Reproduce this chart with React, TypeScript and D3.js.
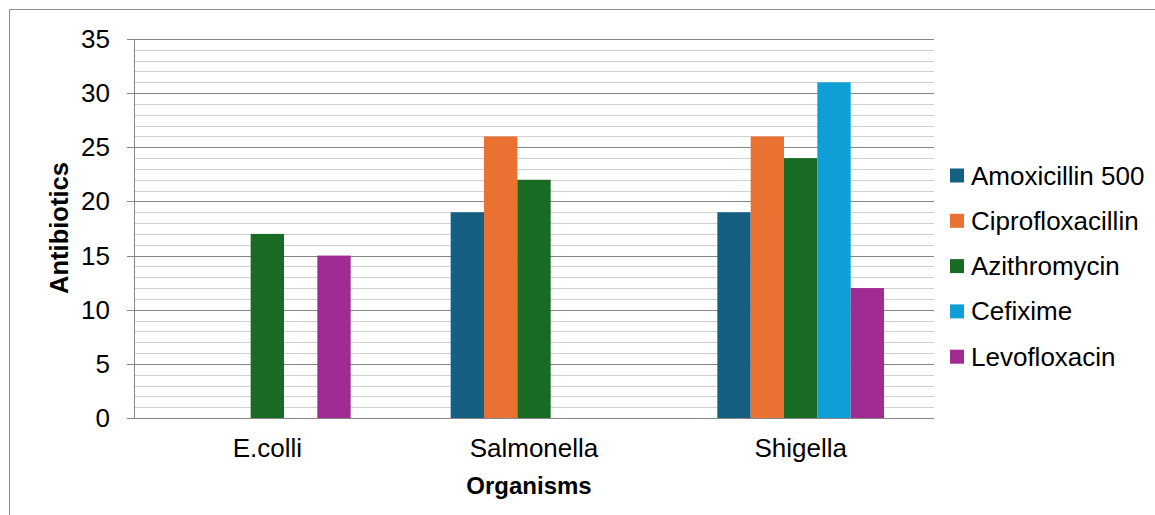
import React from "react";
import * as d3 from "d3";

const categories = ["E.colli", "Salmonella", "Shigella"];
const seriesNames = ["Amoxicillin 500", "Ciprofloxacillin", "Azithromycin", "Cefixime", "Levofloxacin"];
const seriesColors = ["#156082", "#E97132", "#196B24", "#0F9ED5", "#A02B93"];
const amoxicillin = [0, 19, 19];
const ciprofloxacillin = [0, 26, 26];
const azithromycin = [17, 22, 24];
const cefixime = [0, 0, 31];
const levofloxacin = [15, 0, 12];
const seriesValues = [amoxicillin, ciprofloxacillin, azithromycin, cefixime, levofloxacin];
const yTicks = [0, 5, 10, 15, 20, 25, 30, 35];

const W = 1155;
const H = 515;
const plot = { left: 134, right: 934, top: 39, bottom: 418 };
const font = "'Liberation Sans', Arial, sans-serif";
const fs = 26;

export default function App() {
  const x0 = d3.scaleBand<string>().domain(categories).range([plot.left, plot.right]).paddingInner(0).paddingOuter(0);
  const x1 = d3.scaleBand<string>().domain(seriesNames).range([0, x0.bandwidth()]).paddingOuter(1.5).paddingInner(0);
  const y = d3.scaleLinear().domain([0, 35]).range([plot.bottom, plot.top]);
  const minor = d3.range(0, 36, 1);

  return (
    <svg width={W} height={H} style={{ position: "absolute", left: 0, top: 0, background: "#fff" }} fontFamily={font}>
      <rect x={9.5} y={9.5} width={W + 10} height={H + 10} fill="#fff" stroke="#8c8c8c" strokeWidth={1} />
      {minor.filter((v) => v % 5 !== 0).map((v) => (
        <line key={"m" + v} x1={plot.left} x2={plot.right} y1={Math.round(y(v)) + 0.5} y2={Math.round(y(v)) + 0.5} stroke="#d0d0d0" strokeWidth={1} />
      ))}
      {yTicks.filter((v) => v !== 0).map((v) => (
        <line key={"M" + v} x1={plot.left - 7} x2={plot.right} y1={Math.round(y(v)) + 0.5} y2={Math.round(y(v)) + 0.5} stroke="#868686" strokeWidth={1} />
      ))}
      {categories.map((c, ci) => (
        <g key={c} transform={`translate(${x0(c)},0)`}>
          {seriesNames.map((s, si) => {
            const v = seriesValues[si][ci];
            if (!v) return null;
            return (
              <rect key={s} x={x1(s)} y={y(v)} width={x1.bandwidth()} height={y(0) - y(v)} fill={seriesColors[si]} />
            );
          })}
        </g>
      ))}
      <line x1={plot.left + 0.5} x2={plot.left + 0.5} y1={plot.top} y2={plot.bottom} stroke="#868686" />
      <line x1={plot.left - 7} x2={plot.right} y1={plot.bottom + 0.5} y2={plot.bottom + 0.5} stroke="#868686" />
      {yTicks.map((v) => (
        <text key={"t" + v} x={110} y={y(v) + 9} textAnchor="end" fontSize={fs} fill="#000">{v}</text>
      ))}
      {categories.map((c) => (
        <text key={"c" + c} x={(x0(c) as number) + x0.bandwidth() / 2} y={457} textAnchor="middle" fontSize={fs} fill="#000">{c}</text>
      ))}
      <text x={529} y={494} textAnchor="middle" fontSize={24} fontWeight="bold" fill="#000">Organisms</text>
      <text transform="translate(68,228) rotate(-90)" textAnchor="middle" fontSize={25.5} fontWeight="bold" fill="#000">Antibiotics</text>
      {seriesNames.map((s, i) => (
        <g key={"l" + s} transform={`translate(950,${175.5 + i * 45.3})`}>
          <rect x={0} y={-7} width={14} height={14} fill={seriesColors[i]} />
          <text x={21} y={9} fontSize={fs} fill="#000">{s}</text>
        </g>
      ))}
    </svg>
  );
}
